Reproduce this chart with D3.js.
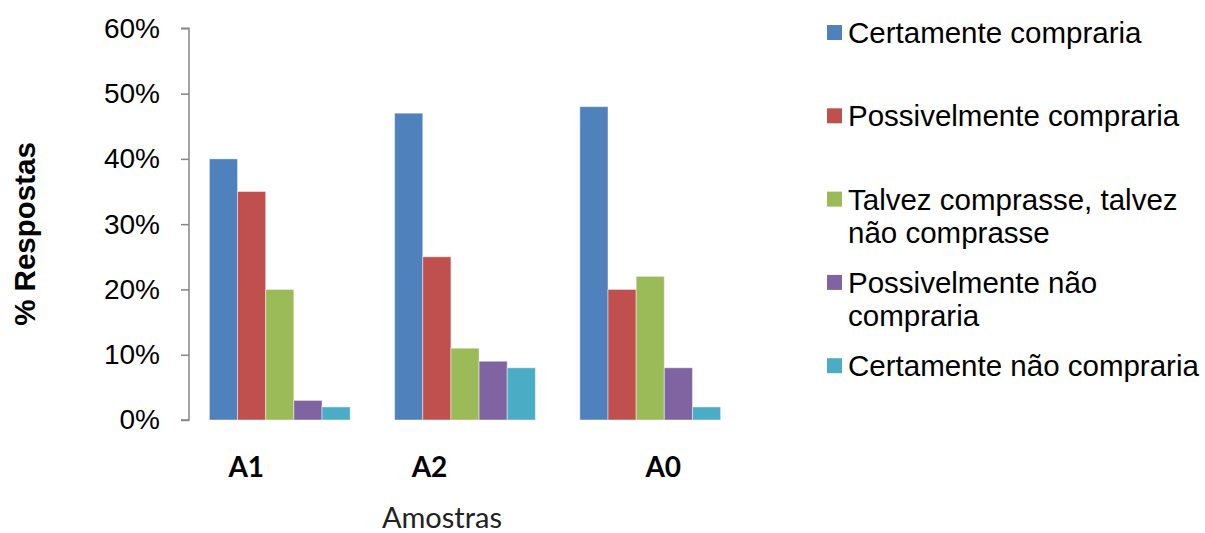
<!DOCTYPE html>
<html>
<head>
<meta charset="utf-8">
<script src="https://cdn.jsdelivr.net/npm/d3@7"></script>
<style>
  body { margin: 0; background: #fff; }
  svg { display: block; }
</style>
</head>
<body>
<script>
// data
var samples = ["A1", "A2", "A0"];
var legendLines = [["Certamente compraria"], ["Possivelmente compraria"],
                   ["Talvez comprasse, talvez", "não comprasse"],
                   ["Possivelmente não", "compraria"], ["Certamente não compraria"]];
var certCompra = [40, 47, 48];
var possCompra = [35, 25, 20];
var talvez = [20, 11, 22];
var possNao = [3, 9, 8];
var certNao = [2, 8, 2];
var yTicks = [0, 10, 20, 30, 40, 50, 60];

var series = [certCompra, possCompra, talvez, possNao, certNao];
var colors = ["#4f81bd", "#c0504d", "#9bbb59", "#8064a2", "#4bacc6"];

// excel put the category labels a bit off centre
var labelShift = [-33.5, -35.5, 13];

var width = 1205, height = 533;
var svg = d3.select("body").append("svg")
    .attr("width", width)
    .attr("height", height);

// scales
var x0 = d3.scaleBand().domain(samples).range([189, 741]).paddingInner(0.24).paddingOuter(0.11);
var x1 = d3.scaleBand().domain(d3.range(series.length)).range([0, x0.bandwidth()]);
var y = d3.scaleLinear().domain([0, 60]).range([420, 28.3]);

// y axis
var yAxis = svg.append("g")
    .attr("transform", "translate(189,0)")
    .call(d3.axisLeft(y).tickValues(yTicks).tickSize(8).tickPadding(21)
        .tickFormat(function (d) { return d + "%"; }));
yAxis.selectAll("path, line").attr("stroke", "#868686").attr("stroke-width", 1.5);
yAxis.select(".domain").attr("d", "M-8," + y(60) + "H0V" + y(0) + "H-8");
yAxis.selectAll("text")
    .attr("font-family", "Liberation Sans, Arial, sans-serif")
    .attr("font-size", 28)
    .attr("fill", "#000");

// bars, one group per sample
var groups = svg.selectAll(".grp")
    .data(samples)
    .enter().append("g")
    .attr("class", "grp")
    .attr("transform", function (d) { return "translate(" + x0(d) + ",0)"; });

groups.selectAll("rect")
    .data(function (d, i) { return series.map(function (s, k) { return { k: k, v: s[i] }; }); })
    .enter().append("rect")
    .attr("x", function (d) { return x1(d.k); })
    .attr("width", x1.bandwidth())
    .attr("y", function (d) { return y(d.v); })
    .attr("height", function (d) { return y(0) - y(d.v); })
    .attr("fill", function (d) { return colors[d.k]; })
    .attr("stroke", "rgba(255,255,255,0.45)")
    .attr("stroke-width", 1);

// category labels
svg.selectAll(".cat")
    .data(samples)
    .enter().append("text")
    .attr("class", "cat")
    .attr("x", function (d, i) { return x0(d) + x0.bandwidth() / 2 + labelShift[i]; })
    .attr("y", 477)
    .attr("text-anchor", "middle")
    .attr("font-family", "Lato, 'Open Sans', sans-serif")
    .attr("font-weight", "bold")
    .attr("font-size", 28)
    .text(function (d) { return d; });

// axis titles
svg.append("text")
    .attr("x", 442).attr("y", 528)
    .attr("text-anchor", "middle")
    .attr("font-family", "Lato, 'Open Sans', sans-serif")
    .attr("font-size", 29)
    .attr("fill", "#222")
    .text("Amostras");

svg.append("text")
    .attr("transform", "translate(35,234) rotate(-90)")
    .attr("text-anchor", "middle")
    .attr("font-family", "Liberation Sans, Arial, sans-serif")
    .attr("font-weight", "bold")
    .attr("font-size", 29.5)
    .text("% Respostas");

// legend
var legend = svg.selectAll(".leg")
    .data(legendLines)
    .enter().append("g")
    .attr("class", "leg")
    .attr("transform", function (d, i) { return "translate(827," + (25 + i * 83.3) + ")"; });

legend.append("rect")
    .attr("width", 15).attr("height", 15)
    .attr("fill", function (d, i) { return colors[i]; });

legend.append("text")
    .attr("font-family", "Liberation Sans, Arial, sans-serif")
    .attr("font-size", 29.5)
    .attr("fill", "#000")
    .selectAll("tspan")
    .data(function (d) { return d; })
    .enter().append("tspan")
    .attr("x", 21)
    .attr("y", function (d, j) { return 18 + j * 33; })
    .text(function (d) { return d; });
</script>
</body>
</html>
